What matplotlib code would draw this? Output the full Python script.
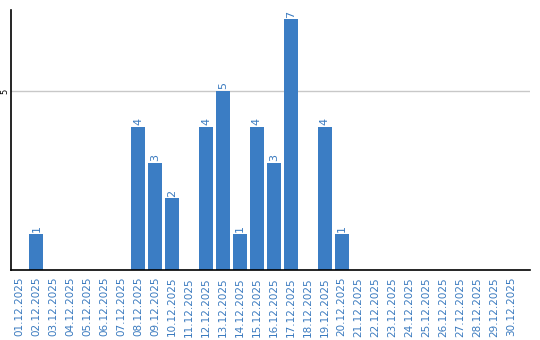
import matplotlib
matplotlib.use("Agg")
import matplotlib.pyplot as plt

dates = [f"{d:02d}.12.2025" for d in range(1, 31)]
counts = [0, 1, 0, 0, 0, 0, 0, 4, 3, 2,
          0, 4, 5, 1, 4, 3, 7, 0, 4, 1,
          0, 0, 0, 0, 0, 0, 0, 0, 0, 0]

BLUE = "#3b7dc4"
TEXT_BLUE = "#3a7abf"

fig = plt.figure(figsize=(5.4, 3.4), dpi=100)
ax = fig.add_axes([11 / 540, 70 / 340, 519 / 540, 260 / 340])

x = list(range(len(dates)))
ax.bar(x, counts, width=0.82, color=BLUE, zorder=2)

for xi, c in zip(x, counts):
    if c > 0:
        ax.text(xi, c + 0.05, str(c), rotation=90, ha="center", va="bottom",
                fontsize=8, color=TEXT_BLUE)

ax.set_xlim(-0.5, 30.1)
ax.set_ylim(0, 7.26)
ax.set_yticks([5])
ax.set_yticklabels(["5"], rotation=90, va="center", fontsize=6)
ax.yaxis.grid(True, color="#c8c8c8", linewidth=1, zorder=0)
ax.set_xticks(x)
ax.set_xticklabels(dates, rotation=90, fontsize=7.5, color=TEXT_BLUE)
ax.tick_params(axis="x", length=0, pad=5)
ax.tick_params(axis="y", length=0, pad=1)

for side in ["top", "right"]:
    ax.spines[side].set_visible(False)
ax.spines["left"].set_color("black")
ax.spines["bottom"].set_color("black")
ax.spines["left"].set_linewidth(1.2)
ax.spines["bottom"].set_linewidth(1.2)

plt.savefig("out.png", dpi=100)
